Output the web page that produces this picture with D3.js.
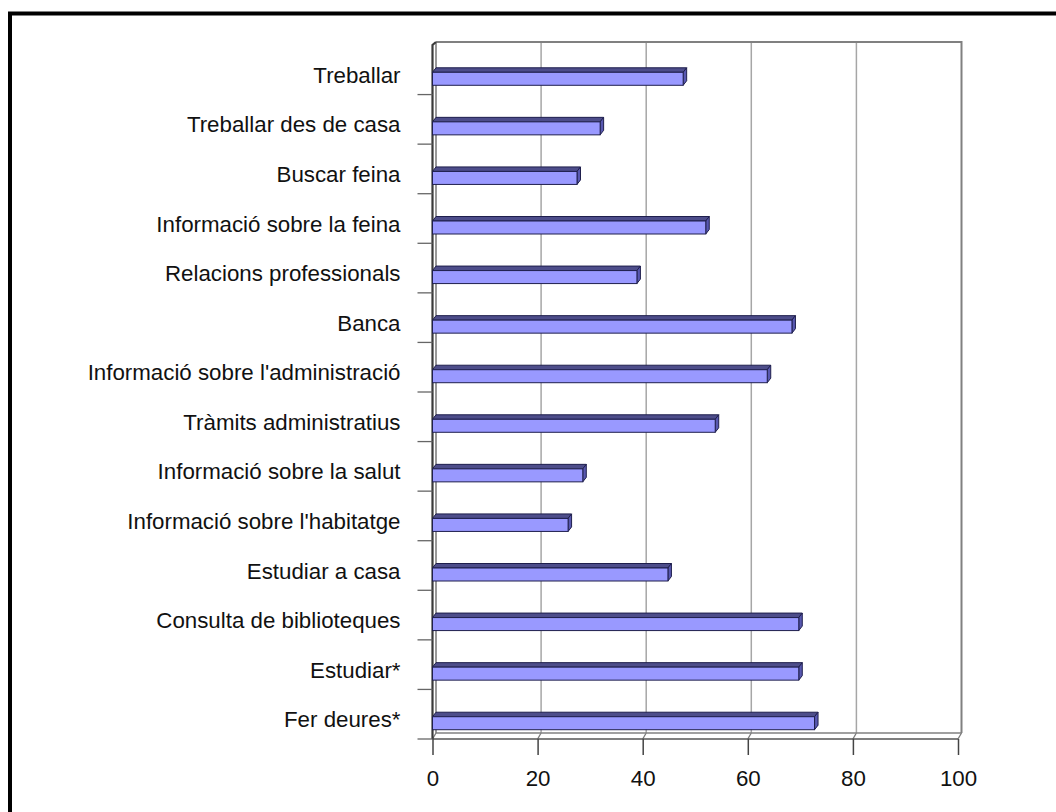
<!DOCTYPE html>
<html>
<head>
<meta charset="utf-8">
<script src="https://cdn.jsdelivr.net/npm/d3@7"></script>
<style>
  html, body { margin: 0; padding: 0; background: #fff; }
  svg { display: block; }
  text { font-family: "Liberation Sans", Arial, sans-serif; }
</style>
</head>
<body>
<svg id="chart" width="1056" height="812"></svg>
<script>
// Categories, top to bottom
const categories = [
  "Treballar",
  "Treballar des de casa",
  "Buscar feina",
  "Informació sobre la feina",
  "Relacions professionals",
  "Banca",
  "Informació sobre l'administració",
  "Tràmits administratius",
  "Informació sobre la salut",
  "Informació sobre l'habitatge",
  "Estudiar a casa",
  "Consulta de biblioteques",
  "Estudiar*",
  "Fer deures*"
];
// Percentage for each category
const values = [47.7, 31.9, 27.5, 52.0, 38.9, 68.4, 63.7, 53.8, 28.6, 25.8, 44.8, 69.7, 69.7, 72.7];
// Value axis ticks
const xTicks = [0, 20, 40, 60, 80, 100];

const FONT = "Liberation Sans, Arial, sans-serif";
const FONT_SIZE = 22.3;

const svg = d3.select("#chart");

// Outer frame
svg.append("rect")
  .attr("x", 10).attr("y", 13.5)
  .attr("width", 1100).attr("height", 900)
  .attr("fill", "none").attr("stroke", "#000").attr("stroke-width", 4);

// Front plane scales, plus a small oblique offset for the back wall
const x = d3.scaleLinear().domain([0, 100]).range([432.5, 958]);
const y = d3.scaleBand().domain(categories).range([45, 739]).paddingInner(0).paddingOuter(0);
const depth = { dx: 3.5, dy: -6 };
const floorY = y.range()[1];
const backTop = 42;
const backBottom = floorY + depth.dy;

const walls = svg.append("g");

// Back wall gridlines
walls.selectAll("line.grid")
  .data(xTicks.slice(1, -1))
  .join("line")
  .attr("class", "grid")
  .attr("x1", d => x(d) + depth.dx).attr("x2", d => x(d) + depth.dx)
  .attr("y1", backTop).attr("y2", backBottom)
  .attr("stroke", "#a6a6a6").attr("stroke-width", 1.5);

// Floor gridlines (diagonals from back to front)
walls.selectAll("line.floorgrid")
  .data(xTicks)
  .join("line")
  .attr("class", "floorgrid")
  .attr("x1", d => x(d) + depth.dx).attr("y1", backBottom)
  .attr("x2", d => x(d)).attr("y2", floorY)
  .attr("stroke", "#7a7a7a").attr("stroke-width", 1.3);

// Back wall outline: top and right edges
walls.append("path")
  .attr("d", `M${x(0) + depth.dx},${backTop} H${x(100) + depth.dx} V${backBottom}`)
  .attr("fill", "none").attr("stroke", "#808080").attr("stroke-width", 2);

// Floor edges
walls.append("line")
  .attr("x1", x(0) + depth.dx).attr("x2", x(100) + depth.dx)
  .attr("y1", backBottom).attr("y2", backBottom)
  .attr("stroke", "#808080").attr("stroke-width", 1.3);
walls.append("line")
  .attr("x1", x(0)).attr("x2", x(100))
  .attr("y1", floorY).attr("y2", floorY)
  .attr("stroke", "#555").attr("stroke-width", 1.3);

// Left wall edges (back and front)
walls.append("line")
  .attr("x1", x(0) + depth.dx).attr("x2", x(0) + depth.dx)
  .attr("y1", backTop).attr("y2", backBottom)
  .attr("stroke", "#777").attr("stroke-width", 1.5);
walls.append("path")
  .attr("d", `M${x(0) + depth.dx},${backTop} L${x(0)},${y.range()[0]} V${floorY}`)
  .attr("fill", "none").attr("stroke", "#3a3a3a").attr("stroke-width", 2.2);

// Category boundary ticks
const boundaries = categories.map(c => y(c)).concat([floorY]);
svg.append("g").selectAll("line")
  .data(boundaries.slice(1))
  .join("line")
  .attr("x1", x(0) - 15).attr("x2", x(0))
  .attr("y1", d => d).attr("y2", d => d)
  .attr("stroke", "#666").attr("stroke-width", 1.3);

// Category labels
const yAxis = d3.axisLeft(y).tickSize(0).tickPadding(32);
const yg = svg.append("g").attr("transform", `translate(${x(0)},6)`).call(yAxis);
yg.attr("font-size", null).attr("font-family", null);
yg.select(".domain").remove();
yg.selectAll("text")
  .style("font-size", FONT_SIZE + "px")
  .style("font-family", FONT)
  .attr("fill", "#111");

// Value axis
const xAxis = d3.axisBottom(x).tickValues(xTicks).tickSize(16).tickPadding(15).tickSizeOuter(0);
const xg = svg.append("g").attr("transform", `translate(0,${floorY})`).call(xAxis);
xg.attr("font-size", null).attr("font-family", null);
xg.select(".domain").remove();
xg.selectAll(".tick line").attr("stroke", "#444").attr("stroke-width", 1.5);
xg.selectAll("text")
  .style("font-size", FONT_SIZE + "px")
  .style("font-family", FONT)
  .attr("fill", "#111");

// 3D bars: top face, end face, front face
const barTop = 2.5, barH = 13, bd = { dx: 3.5, dy: -4.5 };
const bars = svg.append("g").selectAll("g")
  .data(categories.map((c, i) => ({ c, v: values[i] })))
  .join("g");

bars.append("path")
  .attr("d", d => {
    const c = y(d.c) + y.bandwidth() / 2 + barTop;
    const x0 = x(0), x1 = x(d.v);
    return `M${x0},${c} L${x1},${c} L${x1 + bd.dx},${c + bd.dy} L${x0 + bd.dx},${c + bd.dy} Z`;
  })
  .attr("fill", "#4d4d8a").attr("stroke", "#1f1f4d").attr("stroke-width", 1);

bars.append("path")
  .attr("d", d => {
    const c = y(d.c) + y.bandwidth() / 2 + barTop;
    const x1 = x(d.v);
    return `M${x1},${c} L${x1 + bd.dx},${c + bd.dy} L${x1 + bd.dx},${c + bd.dy + barH} L${x1},${c + barH} Z`;
  })
  .attr("fill", "#5858b0").attr("stroke", "#1f1f4d").attr("stroke-width", 1);

bars.append("rect")
  .attr("x", x(0))
  .attr("y", d => y(d.c) + y.bandwidth() / 2 + barTop)
  .attr("width", d => x(d.v) - x(0))
  .attr("height", barH)
  .attr("fill", "#9999ff").attr("stroke", "#1f1f4d").attr("stroke-width", 1);
</script>
</body>
</html>
